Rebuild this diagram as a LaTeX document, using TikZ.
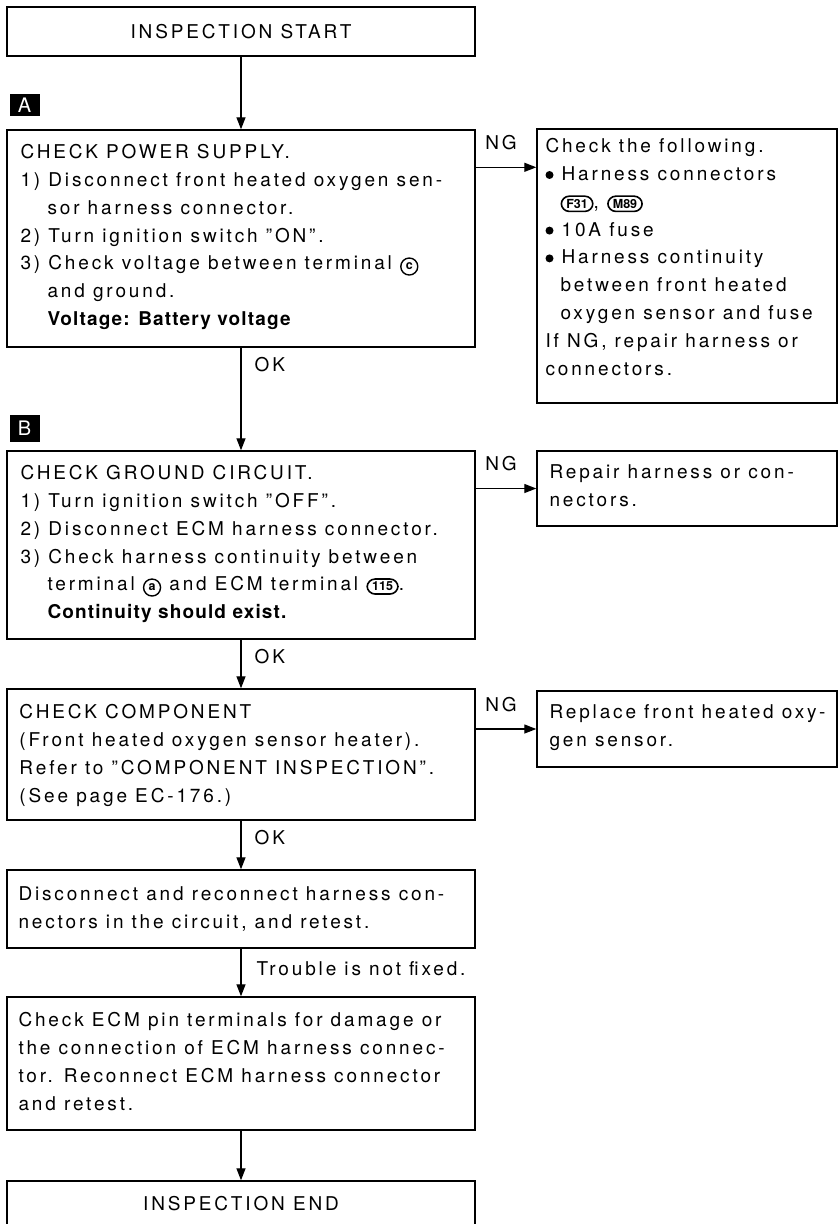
\documentclass[tikz,border=0pt]{standalone}
\usepackage{fontspec}
\setmainfont{TeX Gyre Heros}[LetterSpace=15]
\newfontfamily\tightfont{TeX Gyre Heros}
\newfontfamily\keyfont{TeX Gyre Heros}[LetterSpace=6]
\usetikzlibrary{arrows.meta,positioning,calc}

% small marks used inside the step texts
\newcommand{\circterm}[1]{\tikz[baseline=(t.base)]\node[circle,draw,line width=1.4pt,inner sep=0pt,minimum size=17pt,font=\tightfont\fontsize{12.5}{12.5}\selectfont\bfseries] (t) {#1};}
\newcommand{\connbadge}[1]{\tikz[baseline=(c.base)]\node[draw,line width=1.6pt,rounded corners=8pt,inner xsep=5pt,inner ysep=3pt,font=\tightfont\fontsize{12.5}{12.5}\selectfont\bfseries] (c) {#1};}
\newcommand{\dotmark}{\tikz[baseline=0pt]\fill (0pt,0pt) (0pt,5.5pt) circle (4pt);}

\tikzset{
  box/.style={draw,line width=1.4pt,minimum width=468pt,inner sep=0pt,font=\fontsize{19}{27.8}\selectfont},
  sidebox/.style={draw,line width=1.4pt,minimum width=300pt,inner sep=0pt},
  txt/.style={align=left,inner sep=0pt,font=\fontsize{19}{27.8}\selectfont},
  flow/.style={line width=1.3pt,-{Triangle[length=12pt,width=9pt]}},
  tag/.style={fill=black,text=white,minimum width=30pt,minimum height=22pt,inner sep=0pt,font=\fontsize{20}{20}\selectfont},
  lbl/.style={inner sep=0pt,font=\fontsize{19}{20}\selectfont}
}

\begin{document}
\begin{tikzpicture}[x=1pt,y=-1pt]
  \useasboundingbox (0,0) rectangle (839,1224);

  % main column
  \node[box,minimum height=49pt] (start) at (241,31.5) {INSPECTION START};
  \node[box,minimum height=217pt] (chkA) at (241,238.5) {};
  \node[box,minimum height=188pt] (chkB) at (241,545) {};
  \node[box,minimum height=131pt] (chkC) at (241,754.5) {};
  \node[box,minimum height=78pt] (chkD) at (241,909) {};
  \node[box,minimum height=133pt] (chkE) at (241,1063.5) {};
  \node[box,minimum height=46pt] (finish) at (241,1204) {INSPECTION END};

  \node[tag,above right=13pt and 3pt of chkA.north west] (markA) {A};
  \node[tag,minimum height=27pt,above right=8pt and 3pt of chkB.north west] (markB) {B};

  \node[txt,below right=15pt and 14pt of chkA.north west] (chkA-t)
    {CHECK POWER SUPPLY.\\
     1) Disconnect front heated oxygen sen-\\
     \hspace*{27pt}sor harness connector.\\
     2) Turn ignition switch ''ON''.\\
     3) Check voltage between terminal \circterm{c}\\
     \hspace*{27pt}and ground.\\
     \hspace*{27pt}{\keyfont\bfseries Voltage: Battery voltage}};
  \node[txt,below right=15pt and 14pt of chkB.north west] (chkB-t)
    {CHECK GROUND CIRCUIT.\\
     1) Turn ignition switch ''OFF''.\\
     2) Disconnect ECM harness connector.\\
     3) Check harness continuity between\\
     \hspace*{27pt}terminal \circterm{a} and ECM terminal \connbadge{115}.\\
     \hspace*{27pt}{\keyfont\bfseries Continuity should exist.}};
  \node[txt,below right=16pt and 13pt of chkC.north west] (chkC-t)
    {CHECK COMPONENT\\
     (Front heated oxygen sensor heater).\\
     Refer to ''COMPONENT INSPECTION''.\\
     (See page EC-176.)};
  \node[txt,below right=17pt and 12pt of chkD.north west] (chkD-t)
    {Disconnect and reconnect harness con-\\
     nectors in the circuit, and retest.};
  \node[txt,below right=16pt and 12pt of chkE.north west] (chkE-t)
    {Check ECM pin terminals for damage or\\
     the connection of ECM harness connec-\\
     tor. Reconnect ECM harness connector\\
     and retest.};

  % side column
  \node[sidebox,minimum height=274pt] (fixA) at (687,266) {};
  \node[sidebox,minimum height=75pt] (fixB) at (687,488.5) {};
  \node[sidebox,minimum height=76pt] (fixC) at (687,729) {};

  \node[txt,below right=10pt and 9pt of fixA.north west] (fixA-t)
    {Check the following.\\
     \dotmark\ Harness connectors\\
     \hspace*{15pt}\connbadge{F31}, \connbadge{M89}\\
     \dotmark\ 10A fuse\\
     \dotmark\ Harness continuity\\
     \hspace*{15pt}between front heated\\
     \hspace*{15pt}oxygen sensor and fuse\\
     If NG, repair harness or\\
     connectors.};
  \node[txt,below right=14pt and 13pt of fixB.north west] (fixB-t)
    {Repair harness or con-\\
     nectors.};
  \node[txt,below right=14pt and 13pt of fixC.north west] (fixC-t)
    {Replace front heated oxy-\\
     gen sensor.};

  % connectors
  \draw[flow] (start) -- (chkA);
  \draw[flow] (chkA) -- (chkB) node[lbl,pos=0,anchor=base west,xshift=13pt,yshift=-24pt] {OK};
  \draw[flow] (chkB) -- (chkC) node[lbl,pos=0,anchor=base west,xshift=13pt,yshift=-24pt] {OK};
  \draw[flow] (chkC) -- (chkD) node[lbl,pos=0,anchor=base west,xshift=13pt,yshift=-24pt] {OK};
  \draw[flow] (chkD) -- (chkE) node[lbl,pos=0,anchor=base west,xshift=15pt,yshift=-27pt] {Trouble is not fixed.};
  \draw[flow] (chkE) -- (finish);

  \coordinate (ngA) at ($(chkA.north east)+(0,38)$);
  \draw[flow] (ngA) -- (ngA -| fixA.west) node[lbl,pos=0,anchor=base west,xshift=9pt,yshift=18pt] {NG};
  \draw[flow] (chkB.east |- fixB.west) -- (fixB.west) node[lbl,pos=0,anchor=base west,xshift=9pt,yshift=18pt] {NG};
  \draw[flow] (chkC.east |- fixC.west) -- (fixC.west) node[lbl,pos=0,anchor=base west,xshift=9pt,yshift=18pt] {NG};
\end{tikzpicture}
\end{document}
